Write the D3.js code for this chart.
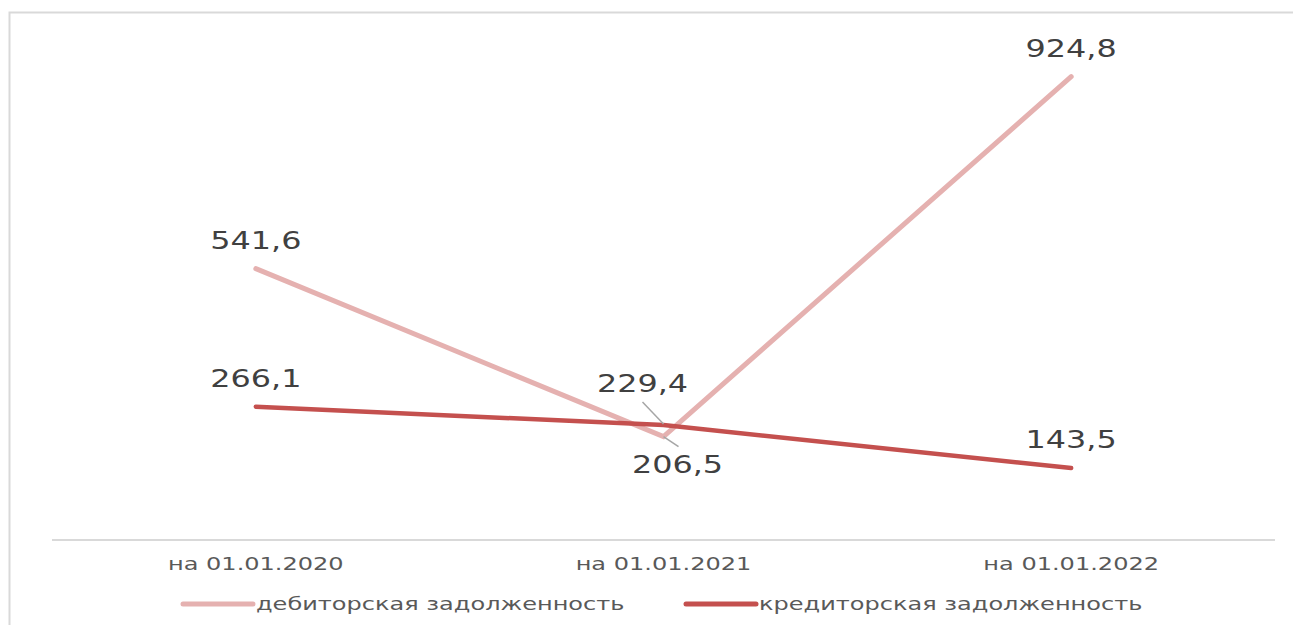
<!DOCTYPE html>
<html>
<head>
<meta charset="utf-8">
<script src="https://cdn.jsdelivr.net/npm/d3@7"></script>
<style>
  html, body { margin: 0; padding: 0; background: #fff; }
  svg { display: block; }
</style>
</head>
<body>
<svg id="chart" width="1293" height="625"></svg>
<script>
// data
const categories = ['на 01.01.2020', 'на 01.01.2021', 'на 01.01.2022'];
const seriesNames = ['дебиторская задолженность', 'кредиторская задолженность'];
const debit = [541.6, 206.5, 924.8];
const credit = [266.1, 229.4, 143.5];
const valueLabels = [
  ['541,6', '206,5', '924,8'],
  ['266,1', '229,4', '143,5']
];

const colors = ['#e5b1b0', '#c4504e'];
const stretch = 1.3; // reference picture is squeezed wider than tall

const svg = d3.select('#chart');
const W = 1293, H = 625;

// frame of the chart area (top and left edges are visible)
svg.append('path')
  .attr('d', `M9.5,${H} V12.5 H${W}`)
  .attr('fill', 'none')
  .attr('stroke', '#d9d9d9')
  .attr('stroke-width', 2);

const x = d3.scalePoint().domain(categories).range([52, 1275]).padding(0.5);
const y = d3.scaleLinear().domain([0, 1000]).range([540, 39]);

// category axis line
svg.append('line')
  .attr('x1', 52).attr('x2', 1275)
  .attr('y1', y(0)).attr('y2', y(0))
  .attr('stroke', '#d9d9d9')
  .attr('stroke-width', 2);

function wideText(g, tx, ty, str, size, fill, anchor) {
  g.append('text')
    .attr('transform', `translate(${tx},${ty}) scale(${stretch},1)`)
    .attr('text-anchor', anchor || 'middle')
    .style('font-family', 'DejaVu Sans, Verdana, sans-serif')
    .style('font-size', size + 'px')
    .style('fill', fill)
    .text(str);
}

const axisG = svg.append('g');
categories.forEach(c => wideText(axisG, x(c), 570, c, 18.5, '#595959'));

// series lines
const line = d3.line().x((d, i) => x(categories[i])).y(d => y(d));
[debit, credit].forEach((vals, s) => {
  svg.append('path')
    .datum(vals)
    .attr('d', line)
    .attr('fill', 'none')
    .attr('stroke', colors[s])
    .attr('stroke-width', s === 0 ? 5 : 4.5)
    .attr('stroke-linejoin', 'miter')
    .attr('stroke-linecap', 'round');
});

// data labels
const labG = svg.append('g');
[debit, credit].forEach((vals, s) => {
  vals.forEach((v, i) => {
    const px = x(categories[i]), py = y(v);
    if (i === 1 && s === 1) {
      // moved up-left with leader line
      labG.append('line')
        .attr('x1', px - 21).attr('y1', py - 23)
        .attr('x2', px).attr('y2', py - 1)
        .attr('stroke', '#a6a6a6').attr('stroke-width', 1.5);
      wideText(labG, px - 21, py - 33, valueLabels[s][i], 24.5, '#404040');
    } else if (i === 1 && s === 0) {
      // moved down-right with leader line
      labG.append('line')
        .attr('x1', px).attr('y1', py)
        .attr('x2', px + 15).attr('y2', py + 10)
        .attr('stroke', '#a6a6a6').attr('stroke-width', 1.5);
      wideText(labG, px + 14, py + 36, valueLabels[s][i], 24.5, '#404040');
    } else {
      wideText(labG, px, py - 20, valueLabels[s][i], 24.5, '#404040');
    }
  });
});

// legend
const legend = [
  { name: seriesNames[0], color: colors[0], x0: 183 },
  { name: seriesNames[1], color: colors[1], x0: 686 }
];
const legG = svg.append('g');
legend.forEach(d => {
  legG.append('line')
    .attr('x1', d.x0).attr('x2', d.x0 + 70)
    .attr('y1', 604).attr('y2', 604)
    .attr('stroke', d.color)
    .attr('stroke-width', 5)
    .attr('stroke-linecap', 'round');
  wideText(legG, d.x0 + 73, 610, d.name, 18.5, '#595959', 'start');
});
</script>
</body>
</html>
